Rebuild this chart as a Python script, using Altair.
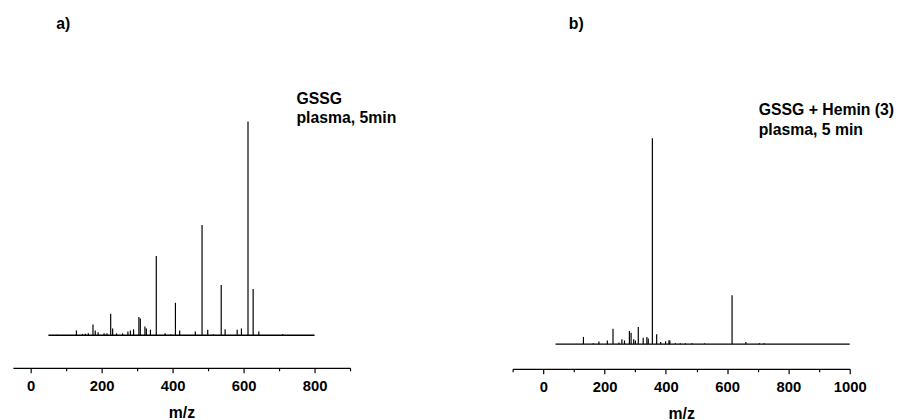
import altair as alt
import pandas as pd

FONT = "Liberation Sans, Arial, Helvetica, sans-serif"

# ---- Panel a: GSSG, plasma 5 min (relative intensity, %) ----
mz_a = [75, 129, 146, 154, 162.5, 175.6, 182, 190, 207, 215, 225.5, 231, 242, 259, 274,
        281, 290, 305, 309, 322, 326, 337.5, 354, 379, 395, 408, 420, 464, 483, 499,
        515, 537, 548, 582, 594, 612.5, 627, 643, 710]
int_a = [0.2, 2.3, 0.5, 0.7, 0.9, 5.1, 2.3, 1.4, 0.9, 0.9, 10.1, 3.2, 0.9, 0.9, 1.8,
         2.3, 2.8, 8.6, 7.8, 4.1, 3.2, 2.6, 37.1, 0.9, 0.5, 15.2, 2.3, 1.8, 51.6, 2.6,
         0.5, 23.5, 2.8, 2.6, 3.2, 100, 21.7, 1.8, 0.5]
range_a = [50, 800]
ticks_a = [0, 100, 200, 300, 400, 500, 600, 700, 800, 900]
lines_a = ["GSSG", "plasma, 5min"]

# ---- Panel b: GSSG + Hemin (3), plasma 5 min ----
mz_b = [131, 163, 181.5, 209, 227.5, 247, 256.5, 265, 281, 286.5, 295, 300.6, 310, 326, 338,
        342.5, 356, 370, 383, 399, 410, 413, 431, 447, 463.5, 485, 526, 616, 661, 705, 721]
int_b = [3.5, 0.5, 1.3, 1.8, 7.5, 0.8, 2.4, 1.8, 6.4, 5.6, 2.4, 1.8, 8.3, 3.1, 3.5,
         2.7, 100, 4.8, 1.0, 1.4, 1.9, 1.8, 0.5, 0.4, 0.4, 0.4, 0.4, 23.8, 1.1, 0.5, 0.5]
range_b = [40, 1000]
ticks_b = [-100, 0, 100, 200, 300, 400, 500, 600, 700, 800, 900, 1000]
lines_b = ["GSSG + Hemin (3)", "plasma, 5 min"]

MAJOR = "datum.value % 200 === 0"


def panel(mz, inten, rng, xdom, ticks, ymax, h, axis_off, title, title_dx,
          ann_x, ann_y, ann_lines):
    xs = alt.Scale(domain=xdom, nice=False, zero=False)
    ys = alt.Scale(domain=[0, ymax], nice=False, zero=False)
    peaks = pd.DataFrame({"mz": mz, "intensity": inten, "floor": [0] * len(mz)})
    base = pd.DataFrame({"start": [rng[0]], "end": [rng[1]], "level": [0]})
    ann = pd.DataFrame({"mz": [ann_x] * len(ann_lines), "y": ann_y, "text": ann_lines})

    peak_layer = alt.Chart(peaks).mark_rule(color="black", strokeWidth=1.2).encode(
        x=alt.X("mz:Q", scale=xs,
                axis=alt.Axis(values=ticks, tickCount=30, title="m/z", orient="bottom",
                              offset=axis_off,
                              labelExpr=f"{MAJOR} ? datum.label : ''",
                              labelOverlap=False, labelFlush=False,
                              tickSize={"condition": {"test": MAJOR, "value": 5}, "value": 3},
                              tickWidth=1.2, domainWidth=1.2,
                              labelPadding=6, titlePadding=11, format="d")),
        y=alt.Y("intensity:Q", scale=ys, axis=None),
        y2="floor:Q",
    )
    base_layer = alt.Chart(base).mark_rule(color="black", strokeWidth=1.4).encode(
        x=alt.X("start:Q", scale=xs),
        x2="end:Q",
        y=alt.Y("level:Q", scale=ys, axis=None),
    )
    text_layer = alt.Chart(ann).mark_text(
        align="left", baseline="alphabetic", font=FONT, fontSize=16,
        fontWeight="bold", color="black"
    ).encode(
        x=alt.X("mz:Q", scale=xs),
        y=alt.Y("y:Q", scale=ys, axis=None),
        text="text:N",
    )
    return alt.layer(peak_layer, base_layer, text_layer).properties(
        width=342, height=h,
        title=alt.TitleParams(title, anchor="start", frame="group", dx=title_dx,
                              offset=11, font=FONT, fontSize=16, fontWeight="bold",
                              color="black"),
    )


pa = panel(mz_a, int_a, range_a, [-50, 900], ticks_a, 136.9, 297, 33,
           "a)", 44, 749, [108.0, 99.1], lines_a)
pb = panel(mz_b, int_b, range_b, [-100, 1000], ticks_b, 146.4, 306, 25,
           "b)", 57, 703, [111.3, 101.7], lines_b)

chart = alt.hconcat(pa, pb, spacing=116).configure_view(
    strokeWidth=0
).configure_axis(
    labelFont=FONT, labelFontSize=15, labelFontWeight="bold", labelColor="black",
    titleFont=FONT, titleFontSize=16, titleFontWeight="bold", titleColor="black",
    domainColor="black", tickColor="black", grid=False,
)

chart.save("out.html", embed_options={"renderer": "svg", "actions": False})
